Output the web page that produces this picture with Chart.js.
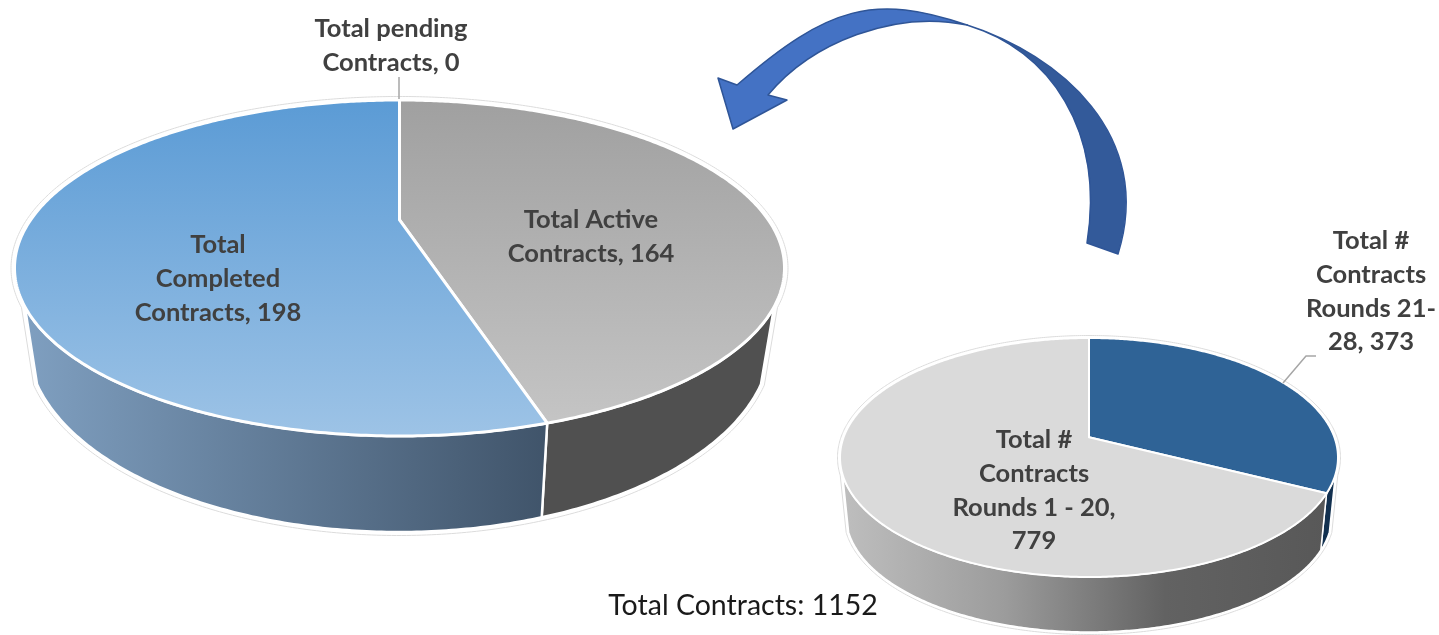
<!DOCTYPE html>
<html lang="en">
<head>
  <meta charset="UTF-8">
  <title>Total Contracts</title>
  <script src="https://cdn.jsdelivr.net/npm/chart.js"></script>
  <style>
    body { margin: 0; background: #fff; }
    canvas { display: block; }
  </style>
</head>
<body>
  <canvas id="contractsChart" width="1439" height="635"></canvas>
  <script>
    // Chart values, clockwise from 12 o'clock
    const statusCategories = ['Total pending Contracts', 'Total Active Contracts', 'Total Completed Contracts'];
    const statusValues = [0, 164, 198];
    const roundCategories = ['Total # Contracts Rounds 21-28', 'Total # Contracts Rounds 1 - 20'];
    const roundValues = [373, 779];

    // Wrapped label text, one list per slice
    const statusLabelLines = [['Total pending', 'Contracts, 0'], ['Total Active', 'Contracts, 164'], ['Total', 'Completed', 'Contracts, 198']];
    const roundLabelLines = [['Total #', 'Contracts', 'Rounds 21-', '28, 373'], ['Total #', 'Contracts', 'Rounds 1 - 20,', '779']];
    const totalLabel = 'Total Contracts: 1152';

    // How each pie is tilted: ellipse of the top face, ellipse of the base, perspective shift
    const pies = [
      {
        top: { x: 399.5, y: 268, rx: 385, ry: 168 }, base: { x: 399, y: 340, rx: 372, ry: 192 }, shift: -0.286,
        wallFrom: 29, wallTo: 151, border: 3,
        labelX: [391, 591, 218], labelY: [28, 219, 244],
        faces: [['#5b9bd5', '#5b9bd5'], ['#a0a0a0', '#c6c6c6'], ['#5b9bd5', '#9dc3e6']],
        walls: [['#505050', '#505050'], ['#505050', '#505050'], ['#7f9fc0', '#40546a']]
      },
      {
        top: { x: 1089, y: 457.5, rx: 249, ry: 119.5 }, base: { x: 1089, y: 515, rx: 243, ry: 117 }, shift: -0.17,
        wallFrom: 18, wallTo: 162, border: 2,
        labelX: [1371, 1034], labelY: [240, 439],
        faces: [['#2f6396', '#2f6396'], ['#dadada', '#dadada']],
        walls: [['#12304f', '#12304f'], ['#bebebe', '#9c9c9c', '#626262', '#585858']]
      }
    ];

    // Circle angle -> point on a tilted ellipse, keeps the off-centre apex of a perspective view
    function project(e, shift, a) {
      const cx = Math.cos(a), cy = Math.sin(a);
      const d = 1 + shift * cy;
      return { x: e.x + e.rx * cx * Math.sqrt(1 - shift * shift) / d, y: e.y + e.ry * (cy + shift) / d };
    }
    function apex(e, shift) {
      return { x: e.x, y: e.y + e.ry * shift };
    }
    function arcPoints(e, shift, from, to) {
      const pts = [];
      const n = Math.max(2, Math.ceil((to - from) / 0.01));
      for (let i = 0; i <= n; i++) pts.push(project(e, shift, from + (to - from) * i / n));
      return pts;
    }
    function trace(ctx, pts) {
      ctx.beginPath();
      pts.forEach((p, i) => i ? ctx.lineTo(p.x, p.y) : ctx.moveTo(p.x, p.y));
      ctx.closePath();
    }

    function drawArrow(ctx) {
      // Light front part with the head
      ctx.beginPath();
      ctx.moveTo(967, 25);
      ctx.bezierCurveTo(875, -6, 829, 5, 737, 85);
      ctx.lineTo(718, 78);
      ctx.lineTo(733, 129);
      ctx.lineTo(787, 100);
      ctx.lineTo(768, 95);
      ctx.bezierCurveTo(812, 42, 895, 10, 967, 25);
      ctx.closePath();
      ctx.fillStyle = '#4472c4';
      ctx.strokeStyle = '#2f5597';
      ctx.lineWidth = 1.5;
      ctx.fill();
      ctx.stroke();
      // Dark back part, narrows to a point where the ribbon turns
      ctx.beginPath();
      ctx.moveTo(967, 25);
      ctx.bezierCurveTo(1060, 55, 1155, 135, 1118, 254);
      ctx.lineTo(1087, 243);
      ctx.bezierCurveTo(1105, 130, 1050, 50, 967, 25);
      ctx.closePath();
      ctx.fillStyle = '#335a9a';
      ctx.strokeStyle = '#2f5597';
      ctx.fill();
      ctx.stroke();
    }

    function gradientOf(ctx, stops, x0, y0, x1, y1) {
      const g = ctx.createLinearGradient(x0, y0, x1, y1);
      stops.forEach((c, i) => g.addColorStop(i / (stops.length - 1), c));
      return g;
    }

    function drawPie(ctx, meta, pie) {
      const from = pie.wallFrom * Math.PI / 180, to = pie.wallTo * Math.PI / 180;
      const t = pie.top, b = pie.base;

      // Thin grey halo round the whole body
      ctx.lineWidth = 1;
      ctx.strokeStyle = '#dcdcdc';
      const halo = e => Object.assign({}, e, { rx: e.rx + pie.border + 0.5, ry: e.ry + pie.border + 0.5 });
      trace(ctx, arcPoints(halo(t), pie.shift, to, from + Math.PI * 2).concat(arcPoints(halo(b), pie.shift, from, to)));
      ctx.stroke();

      // Side walls
      meta.data.forEach((arc, i) => {
        const s = Math.max(arc.startAngle, from), en = Math.min(arc.endAngle, to);
        if (arc.circumference === 0 || en <= s) return;
        const pts = arcPoints(t, pie.shift, s, en).concat(arcPoints(b, pie.shift, s, en).reverse());
        const xs = pts.map(p => p.x);
        ctx.fillStyle = gradientOf(ctx, pie.walls[i], Math.min(...xs), 0, Math.max(...xs), 0);
        ctx.strokeStyle = '#fff';
        ctx.lineWidth = pie.border - 0.5;
        trace(ctx, pts);
        ctx.fill();
        ctx.stroke();
      });

      // Top faces
      const centre = apex(t, pie.shift);
      meta.data.forEach((arc, i) => {
        if (arc.circumference === 0) return;
        const pts = [centre].concat(arcPoints(t, pie.shift, arc.startAngle, arc.endAngle));
        ctx.fillStyle = gradientOf(ctx, pie.faces[i], 0, t.y - t.ry, 0, t.y + t.ry);
        ctx.strokeStyle = '#fff';
        ctx.lineWidth = pie.border;
        ctx.lineJoin = 'round';
        trace(ctx, pts);
        ctx.fill();
        ctx.stroke();
      });
    }

    function drawLabels(ctx, lineSets, pie) {
      ctx.font = 'bold 25.5px Lato';
      ctx.fillStyle = '#404040';
      ctx.textAlign = 'center';
      ctx.textBaseline = 'middle';
      lineSets.forEach((lines, i) => {
        lines.forEach((line, n) => ctx.fillText(line, pie.labelX[i], pie.labelY[i] + 1 + n * 33.7));
      });
    }

    const tiltedPie = {
      id: 'tiltedPie',
      beforeDatasetDraw() {
        return false; // arcs are painted below, on their tilted ellipses
      },
      afterDatasetsDraw(chart) {
        const ctx = chart.ctx;
        ctx.save();
        drawPie(ctx, chart.getDatasetMeta(0), pies[0]);
        drawPie(ctx, chart.getDatasetMeta(1), pies[1]);

        // Leader lines
        ctx.strokeStyle = '#a6a6a6';
        ctx.lineWidth = 1.5;
        ctx.beginPath();
        ctx.moveTo(399, 77);
        ctx.lineTo(399, 99);
        ctx.moveTo(1283, 383);
        ctx.lineTo(1306, 356);
        ctx.lineTo(1316, 356);
        ctx.stroke();

        drawArrow(ctx);
        drawLabels(ctx, statusLabelLines, pies[0]);
        drawLabels(ctx, roundLabelLines, pies[1]);

        ctx.font = '28.5px Lato';
        ctx.fillStyle = '#1a1a1a';
        ctx.textAlign = 'center';
        ctx.textBaseline = 'middle';
        ctx.fillText(totalLabel, 743, 606);
        ctx.restore();
      }
    };

    new Chart(document.getElementById('contractsChart').getContext('2d'), {
      type: 'pie',
      data: {
        labels: statusCategories,
        datasets: [
          { label: 'Contracts by status', data: statusValues, backgroundColor: '#5b9bd5' },
          { label: 'Contracts by round', data: roundValues, backgroundColor: '#2f6396', categories: roundCategories }
        ]
      },
      options: {
        responsive: false,
        animation: false,
        plugins: { legend: { display: false }, tooltip: { enabled: false } }
      },
      plugins: [tiltedPie]
    });
  </script>
</body>
</html>
